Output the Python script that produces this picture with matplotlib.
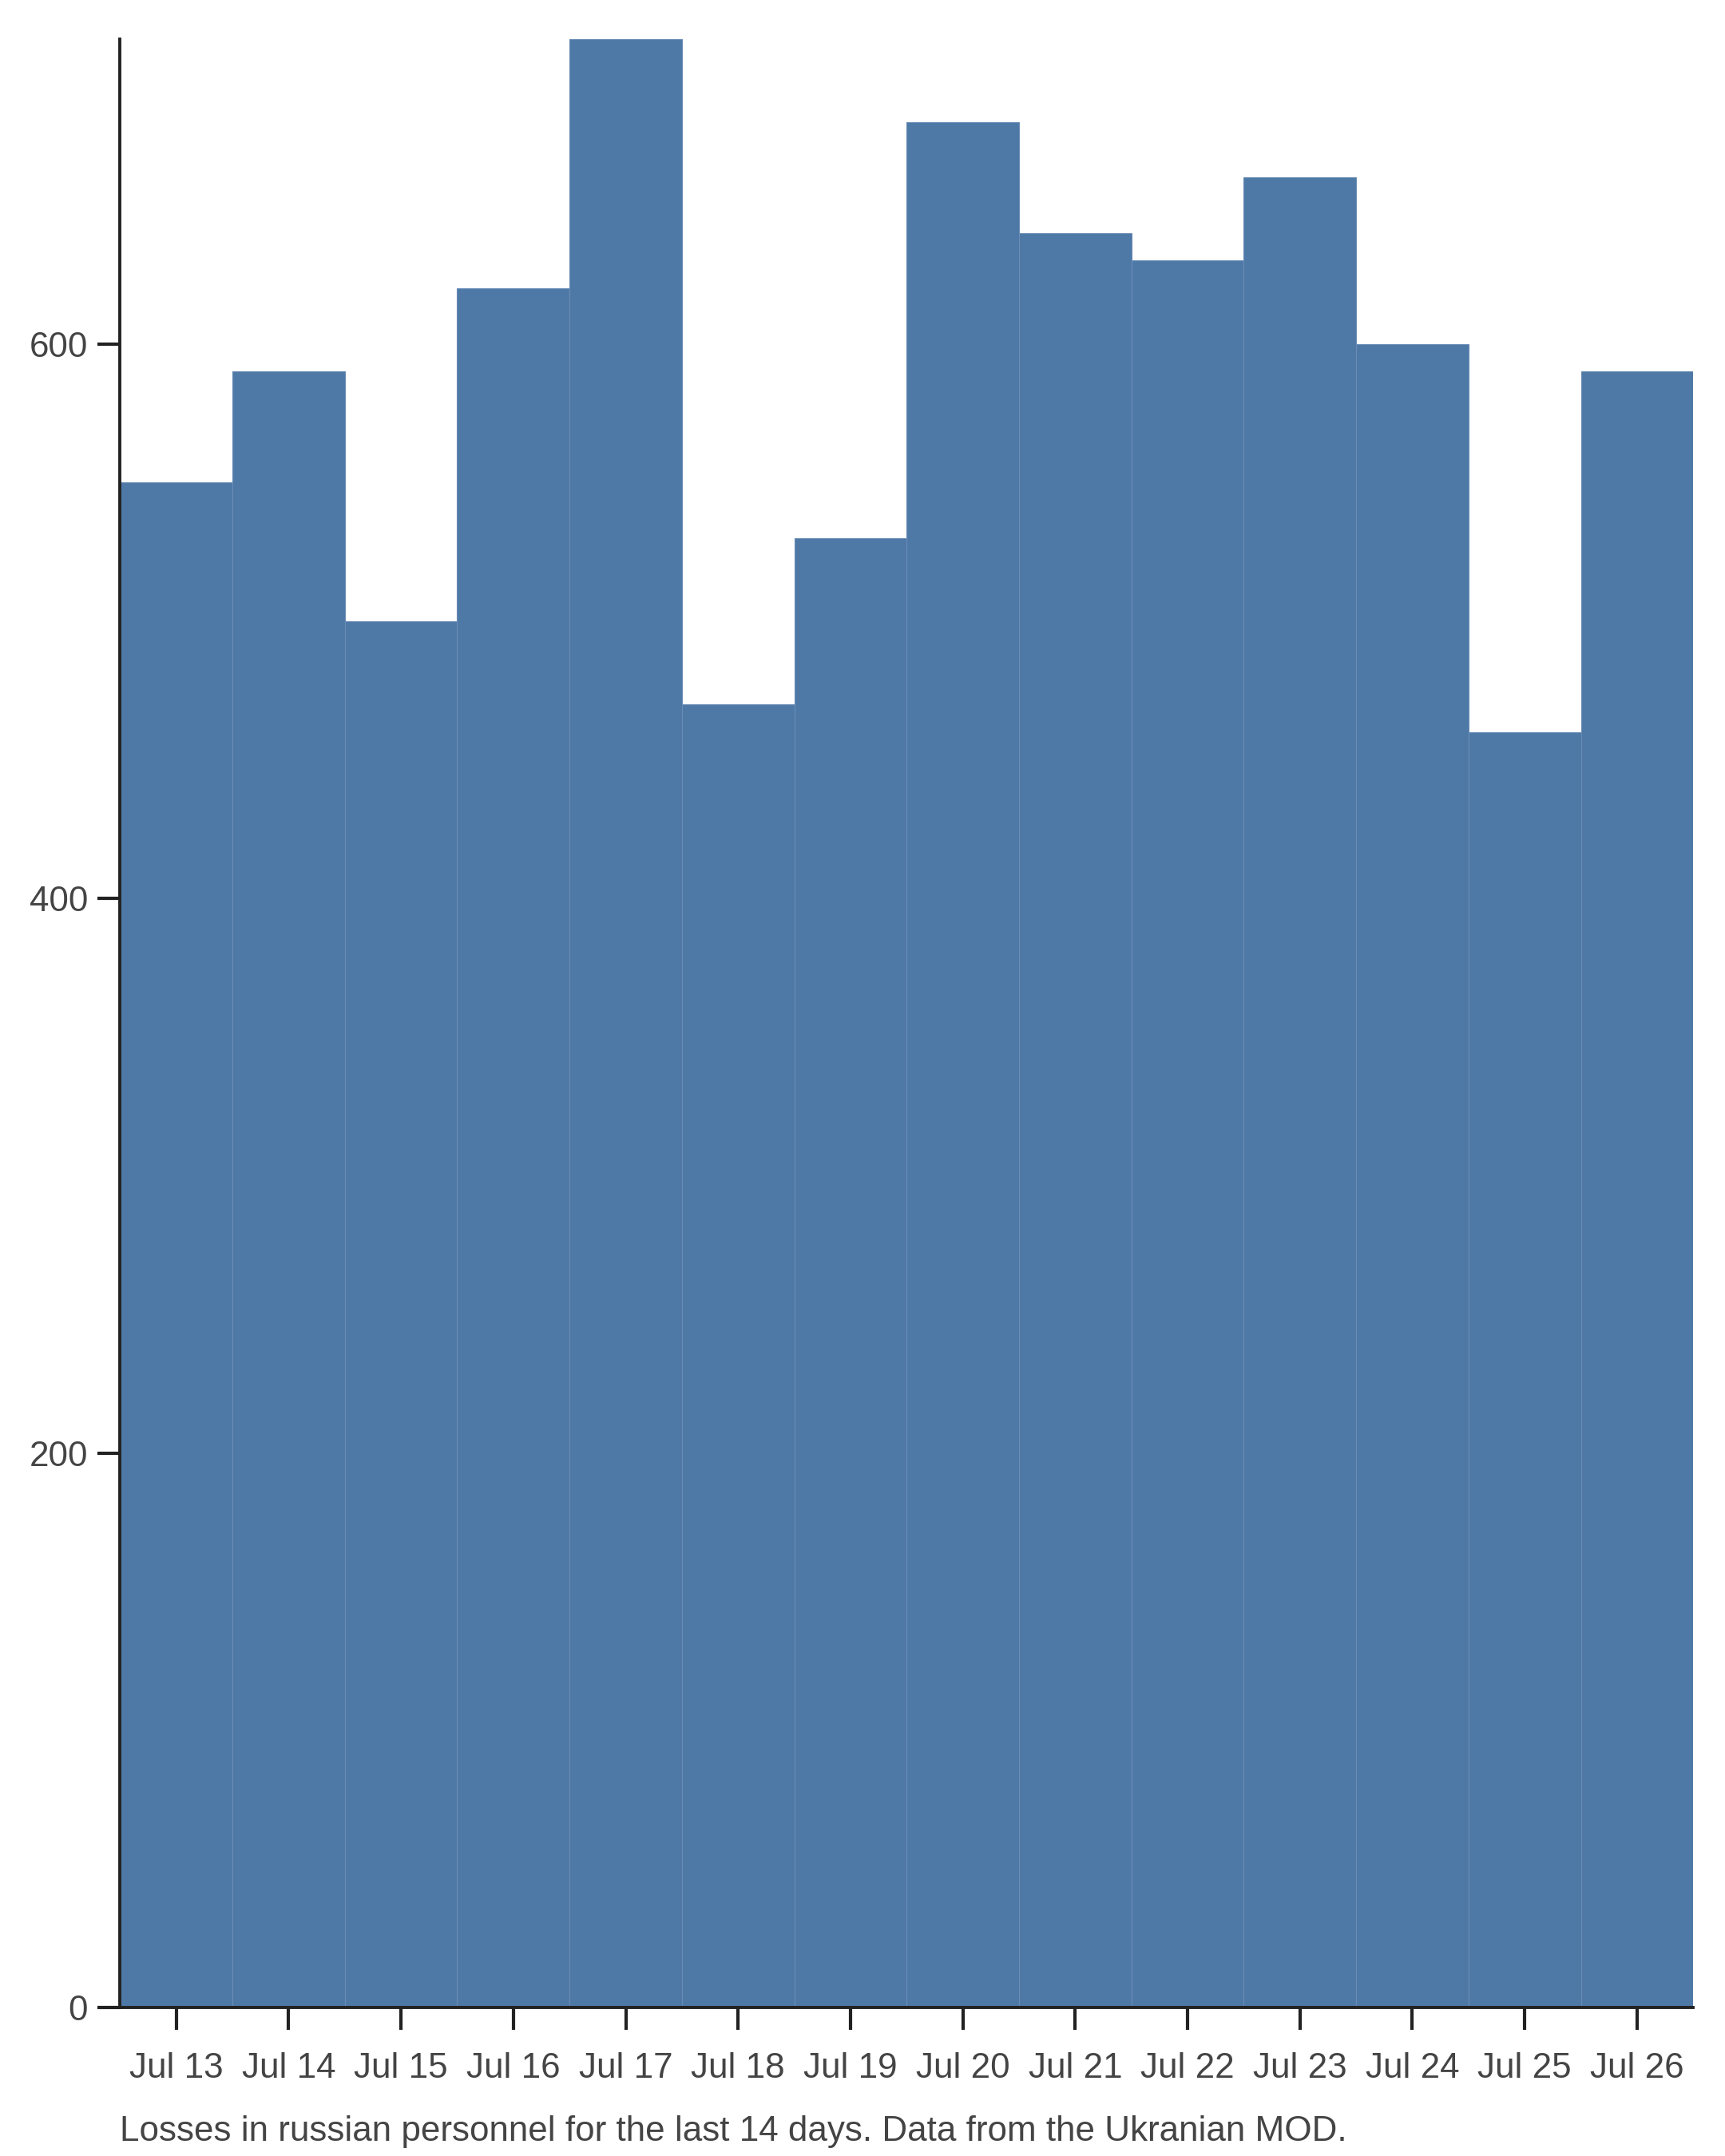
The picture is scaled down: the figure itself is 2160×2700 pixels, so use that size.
import matplotlib
matplotlib.use("Agg")
import matplotlib.pyplot as plt

days = ["Jul 13", "Jul 14", "Jul 15", "Jul 16", "Jul 17", "Jul 18", "Jul 19",
        "Jul 20", "Jul 21", "Jul 22", "Jul 23", "Jul 24", "Jul 25", "Jul 26"]
losses = [550, 590, 500, 620, 710, 470, 530, 680, 640, 630, 660, 600, 460, 590]
yticks = [0, 200, 400, 600]
caption = "Losses in russian personnel for the last 14 days. Data from the Ukranian MOD."

plt.rcParams['font.family'] = ['Liberation Sans', 'DejaVu Sans']

fig = plt.figure(figsize=(10.8, 13.5), dpi=200)
ax = fig.add_axes([0.0696, 0.0688, 0.912, 0.9132])

x = list(range(len(days)))
ax.bar(x, losses, width=1.0, color="#4e79a7", edgecolor="#6a8cb6", linewidth=0.4)

ax.set_xlim(-0.5, len(days) - 0.5)
ax.set_ylim(0, max(losses))
ax.set_xticks(x)
ax.set_xticklabels(days)
ax.set_yticks(yticks)

for s in ["top", "right"]:
    ax.spines[s].set_visible(False)
for s in ["left", "bottom"]:
    ax.spines[s].set_color("#222222")
    ax.spines[s].set_linewidth(1.4)

ax.tick_params(axis="both", direction="out", length=10, width=1.5,
               color="#222222", labelcolor="#444444", labelsize=15.85)
ax.tick_params(axis="x", pad=10)
ax.tick_params(axis="y", pad=4.5)

fig.text(0.0696, 0.0112, caption, ha="left", va="center",
         fontsize=15.85, color="#444444")

fig.savefig("out.png", dpi=200, facecolor="white")
